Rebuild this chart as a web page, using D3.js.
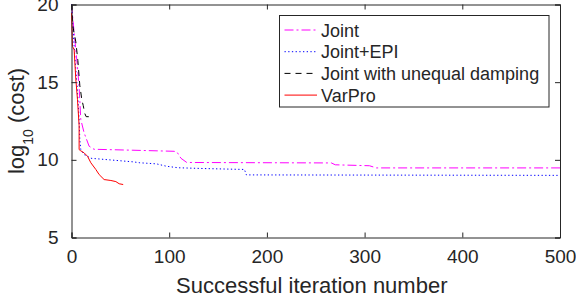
<!DOCTYPE html>
<html>
<head>
<meta charset="utf-8">
<script src="https://cdn.jsdelivr.net/npm/d3@7"></script>
<style>
body { margin: 0; background: #fff; }
text { font-family: "Liberation Sans", Arial, sans-serif; fill: #262626; }
</style>
</head>
<body>
<div id="chart"></div>
<script>
// series data
let jointX = [0, 2.7, 6.1, 7.8, 9.5, 12.9, 18, 23, 62, 105, 108, 112, 118, 266, 270, 305, 312, 500];
let jointY = [20, 18.2, 16, 14.7, 12.6, 11.74, 10.88, 10.68, 10.62, 10.55, 10.5, 10.1, 9.83, 9.8, 9.68, 9.62, 9.48, 9.48];

let epiX = [0, 3, 6, 7.8, 8.5, 9.5, 12.9, 20, 35, 63, 70, 87, 97, 109, 135, 177, 179, 500];
let epiY = [20, 17, 14.5, 12.6, 11.3, 10.66, 10.34, 10.1, 10.02, 9.87, 9.81, 9.74, 9.59, 9.49, 9.44, 9.38, 9.03, 9.0];

let unequalX = [0, 1.7, 4.4, 6.5, 8.5, 10.5, 12, 13.5, 15, 22];
let unequalY = [20, 18.5, 17.6, 16.4, 14.8, 13.9, 13.5, 13.0, 12.78, 12.77];

let varproX = [0, 1, 2.7, 4.4, 6.1, 7.8, 7.8, 9, 12.9, 16.4, 19.8, 24.9, 28.3, 33.4, 40.3, 45.4, 48.8, 52.9];
let varproY = [19.46, 17.3, 17.1, 15.2, 13.9, 12.2, 10.66, 10.6, 10.45, 10.23, 9.81, 9.38, 9.05, 8.73, 8.67, 8.6, 8.46, 8.41];

let xTicks = [0, 100, 200, 300, 400, 500];
let yTicks = [5, 10, 15, 20];
let legendNames = ['Joint', 'Joint+EPI', 'Joint with unequal damping', 'VarPro'];

let w = 576;
let h = 302;
let padL = 71.5, padR = 560, padT = 4.5, padB = 237.5;

let svg = d3.select('#chart')
    .append('svg')
    .attr('width', w)
    .attr('height', h);

let x = d3.scaleLinear().domain([0, 500]).range([padL, padR]);
let y = d3.scaleLinear().domain([5, 20]).range([padB, padT]);

let series = [
    {xs: jointX, ys: jointY, color: '#ff00ff', dash: '9,3,2,3'},
    {xs: epiX, ys: epiY, color: '#0000ff', dash: '1.3,2.4'},
    {xs: unequalX, ys: unequalY, color: '#000000', dash: '6,5'},
    {xs: varproX, ys: varproY, color: '#ff0000', dash: null}
];

let line = d3.line()
    .x(d => x(d[0]))
    .y(d => y(d[1]));

series.forEach(s => {
    svg.append('path')
        .datum(d3.zip(s.xs, s.ys))
        .attr('d', line)
        .attr('fill', 'none')
        .attr('stroke', s.color)
        .attr('stroke-width', 1)
        .attr('stroke-dasharray', s.dash);
});

// axes, ticks inward
let axisColor = '#262626';
let bx = svg.append('g').attr('transform', `translate(0,${padB})`)
    .call(d3.axisBottom(x).tickValues(xTicks).tickSize(-5).tickPadding(12));
let ly = svg.append('g').attr('transform', `translate(${padL},0)`)
    .call(d3.axisLeft(y).tickValues(yTicks).tickSize(-5).tickPadding(13));
let tx = svg.append('g').attr('transform', `translate(0,${padT})`)
    .call(d3.axisTop(x).tickValues(xTicks).tickSize(-5).tickFormat(''));
let ry = svg.append('g').attr('transform', `translate(${padR},0)`)
    .call(d3.axisRight(y).tickValues(yTicks).tickSize(-5).tickFormat(''));

[bx, ly, tx, ry].forEach(g => {
    g.selectAll('path').attr('stroke', axisColor);
    g.selectAll('line').attr('stroke', axisColor);
    g.selectAll('text')
        .attr('font-size', 19)
        .attr('font-family', '"Liberation Sans", Arial, sans-serif')
        .attr('fill', axisColor);
});

// axis labels
svg.append('text')
    .attr('x', (padL + padR) / 2 - 4)
    .attr('y', 293)
    .attr('text-anchor', 'middle')
    .attr('font-size', 22)
    .text('Successful iteration number');

let yl = svg.append('text')
    .attr('transform', 'translate(24,121) rotate(-90)')
    .attr('text-anchor', 'middle')
    .attr('font-size', 22);
yl.append('tspan').text('log');
yl.append('tspan').attr('font-size', 14).attr('dy', 9).text('10');
yl.append('tspan').attr('dy', -9).text(' (cost)');

// legend
let lg = svg.append('g');
lg.append('rect')
    .attr('x', 279.5).attr('y', 15.5)
    .attr('width', 269.5).attr('height', 91.5)
    .attr('fill', '#fff')
    .attr('stroke', axisColor)
    .attr('stroke-width', 1);

legendNames.forEach((name, i) => {
    let yy = 30 + i * 21.7;
    lg.append('line')
        .attr('x1', 284.5).attr('x2', 317)
        .attr('y1', yy).attr('y2', yy)
        .attr('stroke', series[i].color)
        .attr('stroke-width', 1)
        .attr('stroke-dasharray', series[i].dash);
    lg.append('text')
        .attr('x', 321)
        .attr('y', yy + 6.5)
        .attr('font-size', 18)
        .text(name);
});
</script>
</body>
</html>
